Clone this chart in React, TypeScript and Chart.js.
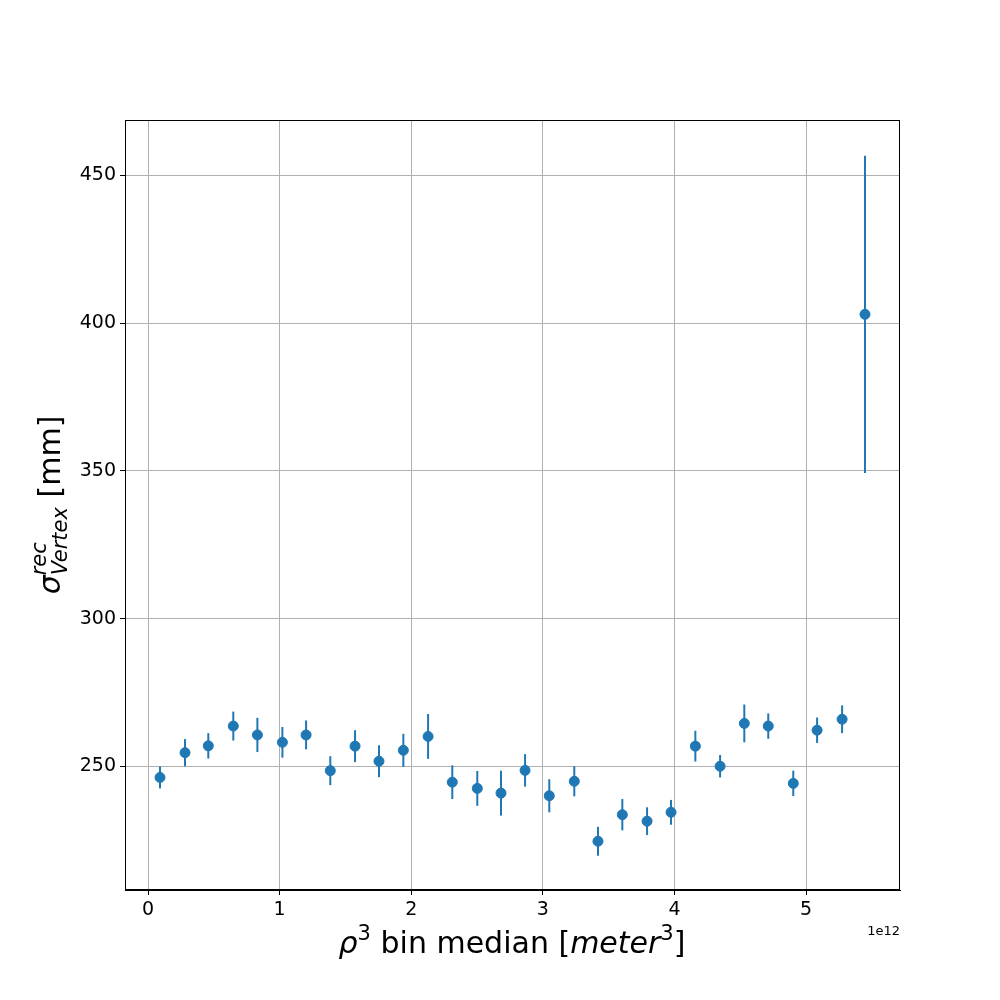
import React, { useEffect, useRef } from "react";
import { Chart, registerables } from "chart.js";
Chart.register(...registerables);

const xValues = [0.091, 0.281, 0.458, 0.648, 0.831, 1.021, 1.201, 1.385, 1.573, 1.755, 1.94, 2.128, 2.312, 2.502, 2.682, 2.865, 3.049, 3.239, 3.419, 3.604, 3.792, 3.974, 4.159, 4.347, 4.531, 4.713, 4.903, 5.084, 5.274, 5.448];
const yValues = [246.2, 254.6, 256.9, 263.6, 260.6, 258.1, 260.6, 248.5, 256.8, 251.7, 255.4, 260.1, 244.6, 242.5, 240.9, 248.6, 240.0, 244.9, 224.6, 233.6, 231.4, 234.4, 256.8, 250.0, 264.5, 263.6, 244.2, 262.2, 265.9, 403.0];
const yErrors = [3.7, 4.6, 4.3, 4.9, 5.8, 5.2, 4.9, 4.9, 5.4, 5.4, 5.6, 7.6, 5.7, 5.9, 7.6, 5.5, 5.6, 5.1, 4.9, 5.3, 4.7, 4.2, 5.2, 3.8, 6.4, 4.3, 4.3, 4.3, 4.7, 53.7];
const xTicks = [0, 1, 2, 3, 4, 5];
const yTicks = [250, 300, 350, 400, 450];
const COLOR = "#1f77b4";
const FONT = "'DejaVu Sans', sans-serif";

const errorBars = {
  id: "errorBars",
  beforeDatasetsDraw(chart: any) {
    const ctx = chart.ctx;
    const xs = chart.scales.x, ys = chart.scales.y;
    ctx.save();
    ctx.strokeStyle = COLOR;
    ctx.lineWidth = 2;
    xValues.forEach((x, i) => {
      const px = xs.getPixelForValue(x);
      ctx.beginPath();
      ctx.moveTo(px, ys.getPixelForValue(yValues[i] - yErrors[i]));
      ctx.lineTo(px, ys.getPixelForValue(yValues[i] + yErrors[i]));
      ctx.stroke();
    });
    ctx.restore();
  },
};

const titles = {
  id: "titles",
  afterDraw(chart: any) {
    const ctx = chart.ctx;
    const ca = chart.chartArea;
    ctx.save();
    ctx.strokeStyle = "#000";
    ctx.lineWidth = 1;
    ctx.strokeRect(ca.left + 0.5, ca.top + 0.5, ca.right - ca.left - 1, ca.bottom - ca.top - 1);
    ctx.fillStyle = "#000";
    ctx.textBaseline = "alphabetic";
    const big = `30px ${FONT}`, bigI = `italic 30px ${FONT}`, sm = `21px ${FONT}`;
    const parts: [string, string, number][] = [
      ["ρ", bigI, 0], ["3", sm, -13], [" bin median [", big, 0], ["meter", bigI, 0], ["3", sm, -13], ["]", big, 0],
    ];
    let w = 0;
    parts.forEach(([t, f]) => { ctx.font = f; w += ctx.measureText(t).width; });
    let x = 512 - w / 2;
    const by = 953;
    parts.forEach(([t, f, dy]) => { ctx.font = f; ctx.fillText(t, x, by + dy); x += ctx.measureText(t).width; });
    ctx.font = `13px ${FONT}`;
    ctx.textAlign = "right";
    ctx.fillText("1e12", ca.right, 935);
    ctx.textAlign = "left";
    ctx.translate(60, 505);
    ctx.rotate(-Math.PI / 2);
    ctx.font = bigI;
    const sw = ctx.measureText("σ").width;
    ctx.font = `italic 21px ${FONT}`;
    const subW = ctx.measureText("Vertex").width;
    ctx.font = big;
    const restW = ctx.measureText(" [mm]").width;
    const total = sw + subW + restW;
    let yx = -total / 2;
    ctx.font = bigI; ctx.fillText("σ", yx, 0); yx += sw;
    ctx.font = `italic 21px ${FONT}`;
    ctx.fillText("Vertex", yx, 7);
    ctx.fillText("rec", yx, -14);
    yx += subW;
    ctx.font = big; ctx.fillText(" [mm]", yx, 0);
    ctx.restore();
  },
};

export default function App() {
  const ref = useRef<HTMLCanvasElement>(null);
  useEffect(() => {
    const chart = new Chart(ref.current!, {
      type: "scatter",
      data: {
        datasets: [{
          data: xValues.map((x, i) => ({ x, y: yValues[i] })),
          backgroundColor: COLOR,
          borderColor: COLOR,
          pointRadius: 5,
          pointHoverRadius: 5,
        }],
      },
      options: {
        responsive: false,
        animation: false,
        layout: { padding: { left: 0, top: 120, right: 100, bottom: 0 } },
        plugins: { legend: { display: false }, tooltip: { enabled: false } },
        scales: {
          x: {
            type: "linear", min: -0.175, max: 5.714,
            afterBuildTicks: (s: any) => { s.ticks = xTicks.map((v) => ({ value: v })); },
            afterFit: (s: any) => { s.height = 110; },
            ticks: { color: "#000", font: { size: 19, family: FONT }, padding: 4, maxRotation: 0 },
            grid: { color: "#b0b0b0", tickColor: "#000", tickLength: 5, drawTicks: true },
            border: { color: "#000" },
          },
          y: {
            type: "linear", min: 208.1, max: 468.8,
            afterBuildTicks: (s: any) => { s.ticks = yTicks.map((v) => ({ value: v })); },
            afterFit: (s: any) => { s.width = 125; },
            ticks: { color: "#000", font: { size: 19, family: FONT }, padding: 4 },
            grid: { color: "#b0b0b0", tickColor: "#000", tickLength: 5 },
            border: { color: "#000" },
          },
        },
      },
      plugins: [errorBars, titles],
    } as any);
    return () => chart.destroy();
  }, []);
  return (
    <div style={{ position: "absolute", left: 0, top: 0, width: 1000, height: 1000, background: "#fff" }}>
      <canvas ref={ref} width={1000} height={1000} style={{ width: 1000, height: 1000 }} />
    </div>
  );
}
